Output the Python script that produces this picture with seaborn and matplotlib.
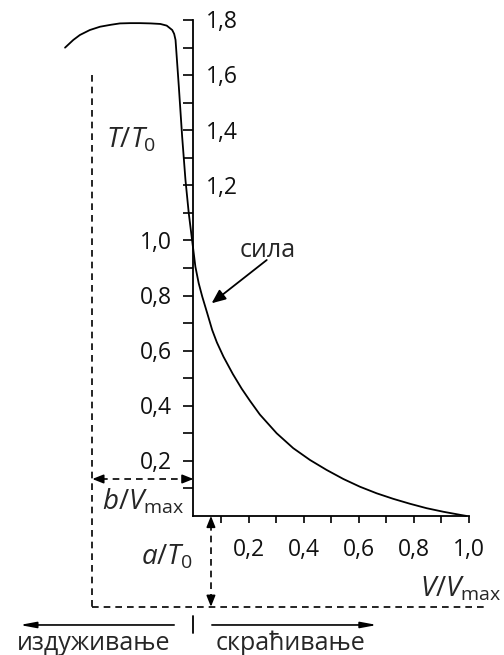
import matplotlib
matplotlib.use("Agg")
import matplotlib.pyplot as plt
import pandas as pd
import seaborn as sns

# ---- data ----
velocity = [-0.466, -0.436, -0.412, -0.376, -0.339, -0.30, -0.267, -0.23, -0.194, -0.155,
            -0.12, -0.097, -0.077, -0.070, -0.065, -0.053, -0.041, -0.029, -0.017, -0.005,
            0.001, 0.007, 0.019, 0.032, 0.05, 0.068, 0.085, 0.109, 0.143, 0.175,
            0.205, 0.241, 0.302, 0.362, 0.423, 0.483, 0.544, 0.604, 0.665, 0.725,
            0.786, 0.846, 0.907, 0.967, 0.99]
tension = [1.70, 1.728, 1.746, 1.764, 1.776, 1.783, 1.788, 1.789, 1.789, 1.788,
           1.786, 1.780, 1.764, 1.750, 1.728, 1.558, 1.377, 1.22, 1.099, 1.002,
           0.954, 0.905, 0.845, 0.796, 0.736, 0.675, 0.63, 0.578, 0.515, 0.462,
           0.418, 0.368, 0.300, 0.246, 0.203, 0.167, 0.134, 0.106, 0.082, 0.062,
           0.044, 0.028, 0.015, 0.004, 0.0]

y_ticks = [0.1, 0.2, 0.3, 0.4, 0.5, 0.6, 0.7, 0.8, 0.9, 1.0, 1.1, 1.2, 1.3, 1.4, 1.5, 1.6, 1.7, 1.8]
y_left_labels = {0.2: "0,2", 0.4: "0,4", 0.6: "0,6", 0.8: "0,8", 1.0: "1,0"}
y_right_labels = {1.2: "1,2", 1.4: "1,4", 1.6: "1,6", 1.8: "1,8"}
x_ticks = [0.1, 0.2, 0.3, 0.4, 0.5, 0.6, 0.7, 0.8, 0.9, 1.0]
x_labels = {0.2: "0,2", 0.4: "0,4", 0.6: "0,6", 0.8: "0,8", 1.0: "1,0"}

a_over_T0 = 0.33      # dashed asymptote below the V axis
b_over_Vmax = 0.367   # dashed asymptote left of the T axis

label_T = r"$T/T_0$"
label_V = r"$V/V_{\mathrm{max}}$"
label_a = r"$a/T_0$"
label_b = r"$b/V_{\mathrm{max}}$"
label_force = "сила"
label_length = "издуживање"
label_short = "скраћивање"

# ---- style ----
sns.set_theme(style="white")
plt.rcParams["font.family"] = ["Open Sans", "DejaVu Sans"]
plt.rcParams["mathtext.fontset"] = "custom"
plt.rcParams["mathtext.rm"] = "Open Sans"
plt.rcParams["mathtext.it"] = "Open Sans:italic"
plt.rcParams["mathtext.bf"] = "Open Sans:bold"

fig = plt.figure(figsize=(5.04, 6.55), dpi=100)
ax = fig.add_axes([0, 0, 1, 1])
ax.set_facecolor("white")
ax.set_xlim(-0.702, 1.127)
ax.set_ylim(-0.505, 1.873)

df = pd.DataFrame({"V": velocity, "T": tension})
sns.lineplot(data=df, x="V", y="T", sort=False, estimator=None, color="black",
             lw=1.3, ax=ax)
ax.set_xlabel("")
ax.set_ylabel("")

# axes through origin
for s in ["top", "right"]:
    ax.spines[s].set_visible(False)
ax.spines["left"].set_position(("data", 0))
ax.spines["bottom"].set_position(("data", 0))
ax.spines["left"].set_bounds(0, 1.8)
ax.spines["bottom"].set_bounds(0, 1.0)
for s in ["left", "bottom"]:
    ax.spines[s].set_color("black")
    ax.spines[s].set_linewidth(1.3)

ax.set_yticks(y_ticks)
ax.set_xticks(x_ticks)
ax.tick_params(axis="y", direction="out", length=7.5, width=1.2, color="black",
               left=True, labelleft=False)
ax.tick_params(axis="x", direction="out", length=5, width=1.2, color="black",
               bottom=True, labelbottom=False)

tick_fs = 16.5
for v, s in y_left_labels.items():
    ax.text(-0.078, v - 0.03, s, ha="right", va="baseline", fontsize=tick_fs, color="#111111")
for v, s in y_right_labels.items():
    ax.text(0.045, v - 0.03, s, ha="left", va="baseline", fontsize=tick_fs, color="#111111")
for v, s in x_labels.items():
    ax.text(v, -0.145, s, ha="center", va="baseline", fontsize=tick_fs, color="#111111")

# dashed asymptotes
dash = dict(color="black", lw=1.2, ls=(0, (4, 3)))
ax.plot([-b_over_Vmax, -b_over_Vmax], [1.60, -a_over_T0], **dash)
ax.plot([-b_over_Vmax, 1.065], [-a_over_T0, -a_over_T0], **dash)

# dashed double arrows
y_b = 0.134
x_a = 0.0635
ax.plot([-b_over_Vmax + 0.03, -0.03], [y_b, y_b], **dash)
ax.plot([x_a, x_a], [-0.03, -a_over_T0 + 0.03], **dash)
head = dict(arrowstyle="-|>,head_length=0.55,head_width=0.22", color="black", lw=1.2,
            shrinkA=0, shrinkB=0)
ax.annotate("", xy=(-b_over_Vmax, y_b), xytext=(-b_over_Vmax + 0.035, y_b), arrowprops=head)
ax.annotate("", xy=(0, y_b), xytext=(-0.035, y_b), arrowprops=head)
ax.annotate("", xy=(x_a, 0.0), xytext=(x_a, -0.035), arrowprops=head)
ax.annotate("", xy=(x_a, -a_over_T0), xytext=(x_a, -a_over_T0 + 0.035), arrowprops=head)

# math labels
math_fs = 20
ax.text(-0.227, 1.365, label_T, ha="center", va="center", fontsize=math_fs)
ax.text(-0.183, 0.05, label_b, ha="center", va="center", fontsize=math_fs)
ax.text(-0.096, -0.149, label_a, ha="center", va="center", fontsize=math_fs)
ax.text(1.117, -0.265, label_V, ha="right", va="center", fontsize=math_fs)

# force label and arrow
text_fs = 18
ax.text(0.269, 0.94, label_force, ha="center", va="baseline", fontsize=text_fs)
ax.annotate("", xy=(0.066, 0.772), xytext=(0.266, 0.929),
            arrowprops=dict(arrowstyle="-|>,head_length=0.7,head_width=0.3", color="black",
                            lw=1.3, shrinkA=0, shrinkB=0))

# bottom direction arrows
ax.plot([0, 0], [-0.362, -0.425], color="black", lw=1.3)
thin = dict(arrowstyle="-|>,head_length=0.8,head_width=0.15", color="black", lw=1.2,
            shrinkA=0, shrinkB=0)
ax.annotate("", xy=(-0.63, -0.396), xytext=(-0.07, -0.396), arrowprops=thin)
ax.annotate("", xy=(0.666, -0.396), xytext=(0.067, -0.396), arrowprops=thin)
ax.text(-0.361, -0.486, label_length, ha="center", va="baseline", fontsize=text_fs)
ax.text(0.354, -0.486, label_short, ha="center", va="baseline", fontsize=text_fs)

fig.savefig("out.png", dpi=100, facecolor="white")
